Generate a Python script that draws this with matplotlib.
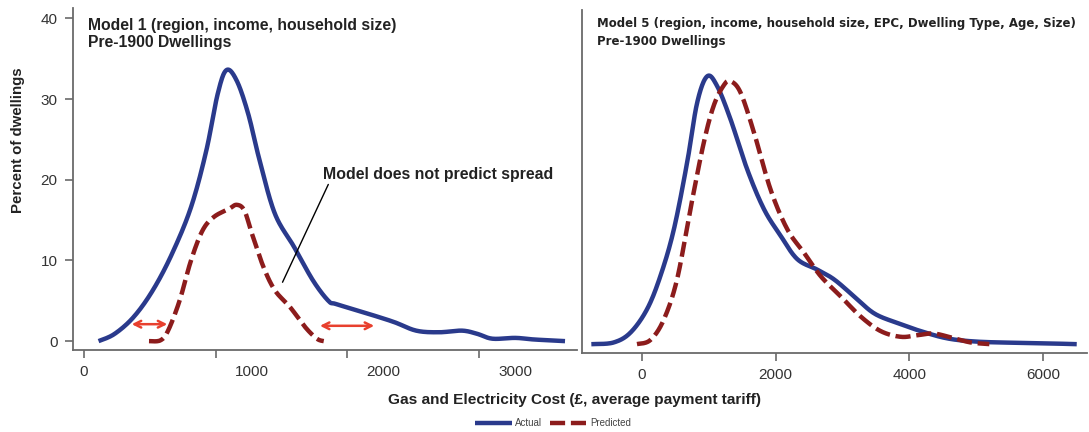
import matplotlib
matplotlib.use("Agg")
import matplotlib.pyplot as plt
from matplotlib.transforms import ScaledTranslation
import numpy as np

plt.rcParams['font.family'] = ['Liberation Sans', 'DejaVu Sans']

# Model 1 (left panel)
m1_actual_x = [110, 232, 377, 522, 667, 812, 928, 1014, 1081, 1159, 1246, 1333, 1449, 1594,
               1739, 1855, 1913, 2116, 2348, 2522, 2696, 2870, 2986, 3101, 3275, 3420, 3652]
m1_actual_y = [0.0, 0.9, 3.0, 6.3, 10.8, 16.6, 23.6, 30.6, 33.6, 32.3, 28.2, 22.4, 15.8, 11.7,
               7.5, 5.0, 4.6, 3.6, 2.4, 1.3, 1.1, 1.3, 0.9, 0.3, 0.4, 0.2, 0.0]
m1_pred_x = [493, 580, 638, 725, 812, 899, 986, 1101, 1159, 1217, 1275, 1362, 1449, 1565,
             1681, 1768, 1820]
m1_pred_y = [0.0, 0.1, 1.3, 5.0, 10.0, 13.7, 15.4, 16.4, 16.9, 16.2, 13.3, 9.2, 6.3, 4.2,
             1.7, 0.3, 0.0]

# Model 5 (right panel)
m5_actual_x = [-725, -425, -175, 75, 275, 475, 675, 825, 975, 1125, 1325, 1575, 1825, 2075,
               2325, 2625, 2875, 3175, 3475, 3825, 4175, 4575, 5025, 5675, 6025, 6475]
m5_actual_y = [0.0, 0.2, 1.4, 4.3, 8.4, 14.1, 22.4, 29.8, 33.1, 31.9, 27.8, 21.6, 16.7, 13.4,
               10.5, 9.2, 8.0, 5.9, 3.8, 2.6, 1.6, 0.7, 0.3, 0.15, 0.1, 0.0]
m5_pred_x = [-75, 125, 325, 525, 725, 925, 1075, 1225, 1325, 1475, 1675, 1925, 2175, 2425,
             2675, 2975, 3275, 3575, 3875, 4125, 4375, 4675, 4925, 5200]
m5_pred_y = [0.0, 0.5, 3.0, 8.0, 16.7, 24.9, 29.5, 32.0, 32.5, 31.1, 26.2, 19.1, 14.2, 11.3,
             8.4, 5.9, 3.4, 1.6, 0.9, 1.1, 1.3, 0.7, 0.2, 0.0]

left_ticks = [0, 1000, 2000, 3000]
right_ticks = [0, 2000, 4000, 6000]
y_ticks = [0, 10, 20, 30, 40]

blue = '#2a3a8c'
red = '#8c1c1c'
grey = '#6a6a6a'
dash = (3.4, 1.3)


def smooth(x, y):
    # catmull-rom style smoothing through the read points
    x = np.asarray(x, float)
    y = np.asarray(y, float)
    xs, ys = [], []
    for i in range(len(x) - 1):
        p0 = i - 1 if i > 0 else i
        p3 = i + 2 if i + 2 < len(x) else i + 1
        t = np.linspace(0, 1, 20, endpoint=False)
        for arr, out in ((x, xs), (y, ys)):
            a0, a1, a2, a3 = arr[p0], arr[i], arr[i + 1], arr[p3]
            out.extend(0.5 * ((2 * a1) + (-a0 + a2) * t + (2 * a0 - 5 * a1 + 4 * a2 - a3) * t ** 2
                              + (-a0 + 3 * a1 - 3 * a2 + a3) * t ** 3))
    xs.append(x[-1])
    ys.append(y[-1])
    return np.array(xs), np.array(ys)


fig = plt.figure(figsize=(10.89, 4.32), dpi=100)
ax1 = fig.add_axes([73 / 1089, 1 - 350 / 432, 504 / 1089, 342 / 432])
ax2 = fig.add_axes([582 / 1089, 1 - 353 / 432, 505 / 1089, 343 / 432])

for ax in (ax1, ax2):
    for s in ('top', 'right'):
        ax.spines[s].set_visible(False)
    for s in ('left', 'bottom'):
        ax.spines[s].set_color(grey)
        ax.spines[s].set_linewidth(1.3)
    ax.tick_params(direction='out', length=6, width=1.2, color=grey, labelsize=11,
                   labelcolor='#333333', pad=5)
    ax.set_ylim(-1.1, 41.3)

# left panel
ax1.set_xlim(-84, 3743)
xa, ya = smooth(m1_actual_x, m1_actual_y)
ax1.plot(xa, ya, color=blue, lw=3.2, solid_capstyle='butt', label='Actual')
xp, yp = smooth(m1_pred_x, m1_pred_y)
ax1.plot(xp, yp, color=red, lw=3.2, dashes=dash, label='Predicted')
ax1.set_xticks(left_ticks)
ax1.set_yticks(y_ticks)
# labels in the original sit a little right of their tick marks
for lab in ax1.get_xticklabels()[1:]:
    lab.set_transform(lab.get_transform() + ScaledTranslation(0.36, 0, fig.dpi_scale_trans))
ax1.set_ylabel('Percent of dwellings', fontsize=10.8, fontweight='bold', color='#222222')
ax1.yaxis.set_label_coords(-0.095, 0.614)

ax1.text(0.03, 0.97, 'Model 1 (region, income, household size)\nPre-1900 Dwellings',
         transform=ax1.transAxes, ha='left', va='top', fontsize=11.3, fontweight='bold',
         color='#222222', linespacing=1.15)

arrow_kw = dict(arrowstyle='<->', color='#e8402e', lw=1.8, mutation_scale=12, shrinkA=0, shrinkB=0)
ax1.annotate('', xy=(632, 2.1), xytext=(362, 2.1), arrowprops=arrow_kw)
ax1.annotate('', xy=(2203, 1.9), xytext=(1791, 1.9), arrowprops=arrow_kw)
ax1.annotate('Model does not predict spread', xy=(1507, 7.3), xytext=(1812, 20.7),
             ha='left', va='center', fontsize=11.4, fontweight='bold', color='#222222',
             arrowprops=dict(arrowstyle='-', color='black', lw=1.0, shrinkA=0, shrinkB=0,
                             relpos=(0.03, 0.0)))

# right panel
ax2.set_xlim(-898, 6662)
xa, ya = smooth(m5_actual_x, m5_actual_y)
ax2.plot(xa, ya, color=blue, lw=3.2)
xp, yp = smooth(m5_pred_x, m5_pred_y)
ax2.plot(xp, yp, color=red, lw=3.2, dashes=dash)
ax2.set_xticks(right_ticks)
ax2.set_yticks([])
ax2.text(0.03, 0.98, 'Model 5 (region, income, household size, EPC, Dwelling Type, Age, Size)\nPre-1900 Dwellings',
         transform=ax2.transAxes, ha='left', va='top', fontsize=8.5, fontweight='bold',
         family=['DejaVu Sans'], color='#222222', linespacing=1.55)

fig.text(575 / 1089, 1 - 400 / 432, 'Gas and Electricity Cost (£, average payment tariff)',
         ha='center', va='center', fontsize=11.1, fontweight='bold', color='#222222')

h, l = ax1.get_legend_handles_labels()
fig.legend(h, l, loc='center', bbox_to_anchor=(553 / 1089, 1 - 423 / 432), ncol=2,
           frameon=False, fontsize=7, handlelength=3.8, handletextpad=0.3, columnspacing=0.8,
           labelcolor='#444444')

fig.savefig('out.png', dpi=100)
